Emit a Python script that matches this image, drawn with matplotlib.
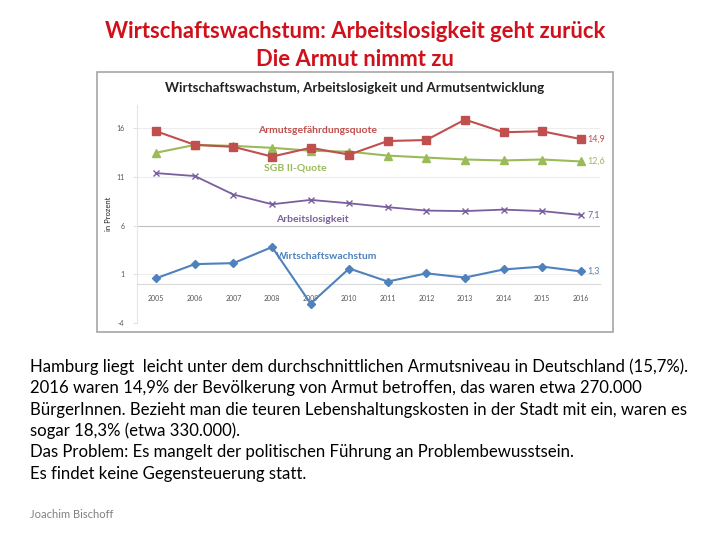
import matplotlib
matplotlib.use("Agg")
import matplotlib.pyplot as plt
from matplotlib.patches import Rectangle

# chart data (Hamburg, in Prozent)
YEARS = ["2005", "2006", "2007", "2008", "2009", "2010",
         "2011", "2012", "2013", "2014", "2015", "2016"]
ARMUT = [15.7, 14.3, 14.1, 13.1, 14.0, 13.3, 14.7, 14.8, 16.9, 15.6, 15.7, 14.9]
SGB2 = [13.5, 14.3, 14.2, 14.0, 13.7, 13.6, 13.2, 13.0, 12.8, 12.7, 12.8, 12.6]
ARBEITSLOS = [11.4, 11.1, 9.2, 8.2, 8.65, 8.3, 7.9, 7.55, 7.5, 7.65, 7.5, 7.1]
WACHSTUM = [0.6, 2.05, 2.15, 3.8, -2.0, 1.6, 0.26, 1.1, 0.67, 1.5, 1.8, 1.3]
Y_TICKS = [16, 11, 6, 1, -4]

SLIDE_TITLE = ["Wirtschaftswachstum: Arbeitslosigkeit geht zurück",
               "Die Armut nimmt zu"]
BODY = [
    "Hamburg liegt  leicht unter dem durchschnittlichen Armutsniveau in Deutschland (15,7%).",
    "2016 waren 14,9% der Bevölkerung von Armut betroffen, das waren etwa 270.000",
    "BürgerInnen. Bezieht man die teuren Lebenshaltungskosten in der Stadt mit ein, waren es",
    "sogar 18,3% (etwa 330.000).",
    "Das Problem: Es mangelt der politischen Führung an Problembewusstsein.",
    "Es findet keine Gegensteuerung statt.",
]
AUTHOR = "Joachim Bischoff"

RED = "#C0504D"
GREEN = "#9BBB59"
PURPLE = "#7B5E9E"
BLUE = "#4F81BD"
FONT = "Lato"

W, H = 720, 540


def fx(px):
    return px / W


def fy(py):
    return 1 - py / H


fig = plt.figure(figsize=(7.2, 5.4), dpi=100)

# slide title
for i, line in enumerate(SLIDE_TITLE):
    fig.text(fx(355), fy(32 + i * 28), line, ha="center", va="center",
             fontsize=15.8, fontweight="bold", color="#D0101A", family=FONT)

# embedded chart frame
fig.patches.append(Rectangle((fx(97), fy(332)), fx(613) - fx(97),
                             fy(72) - fy(332), transform=fig.transFigure,
                             facecolor="none", edgecolor="#A6A6A6", lw=1.2,
                             zorder=-1))
fig.text(fx(355), fy(88),
         "Wirtschaftswachstum, Arbeitslosigkeit und Armutsentwicklung",
         ha="center", va="center", fontsize=9.6, fontweight="bold",
         color="#222222", family=FONT)

ax = fig.add_axes([fx(137), fy(323), fx(600) - fx(137), fy(105) - fy(323)])
ax.set_facecolor("none")
x = list(range(len(YEARS)))

ax.plot(x, ARMUT, color=RED, marker="s", ms=5.5, lw=1.5, zorder=4)
ax.plot(x, SGB2, color=GREEN, marker="^", ms=5.5, lw=1.5, zorder=3)
ax.plot(x, ARBEITSLOS, color=PURPLE, marker="x", ms=5, mew=1.0, lw=1.3,
        zorder=3)
ax.plot(x, WACHSTUM, color=BLUE, marker="D", ms=4.5, lw=1.5, zorder=3)

# x axis crosses at 0; set the spine before the tick labels
ax.spines["bottom"].set_position(("data", 0))
ax.spines["bottom"].set_color("#D9D9D9")
ax.spines["left"].set_color("#E6E6E6")
for side in ["top", "right"]:
    ax.spines[side].set_visible(False)

ax.set_xlim(-0.5, len(YEARS) - 0.5)
ax.set_ylim(-4, 18.4)
ax.set_yticks(Y_TICKS)
ax.set_yticklabels([str(t) for t in Y_TICKS], fontsize=5, color="#555555",
                   family=FONT)
for t in Y_TICKS:
    c = "#BFBFBF" if t == 6 else "#EDEDED"
    ax.axhline(t, color=c, lw=0.8, zorder=1)
ax.tick_params(axis="y", length=3, color="#E0E0E0", pad=6)

ax.set_xticks(x)
ax.set_xticklabels(YEARS, fontsize=5, color="#555555", family=FONT)
ax.tick_params(axis="x", length=0, pad=8)
ax.set_ylabel("in Prozent", fontsize=5.5, family=FONT, labelpad=3,
              color="#222222")

# series labels
lab = dict(fontsize=7.5, fontweight="bold", va="center", family=FONT)
ax.text(2.65, 15.75, "Armutsgefährdungsquote", color=RED, **lab)
ax.text(2.8, 11.9, "SGB II-Quote", color=GREEN, **lab)
ax.text(3.1, 6.6, "Arbeitslosigkeit", color=PURPLE, **lab)
ax.text(3.1, 2.8, "Wirtschaftswachstum", color=BLUE, **lab)
for vals, col in [(ARMUT, RED), (SGB2, GREEN), (ARBEITSLOS, PURPLE),
                  (WACHSTUM, BLUE)]:
    ax.text(len(YEARS) - 1 + 0.18, vals[-1], f"{vals[-1]:.1f}".replace(".", ","),
            color=col, fontsize=6.5, va="center", family=FONT)

# body text
for i, line in enumerate(BODY):
    fig.text(fx(30), fy(367 + i * 21.3), line, ha="left", va="center",
             fontsize=12.1, color="black", family=FONT)
fig.text(fx(30), fy(515), AUTHOR, ha="left", va="center", fontsize=8,
         color="#808080", family=FONT)

fig.savefig("out.png", dpi=100)
